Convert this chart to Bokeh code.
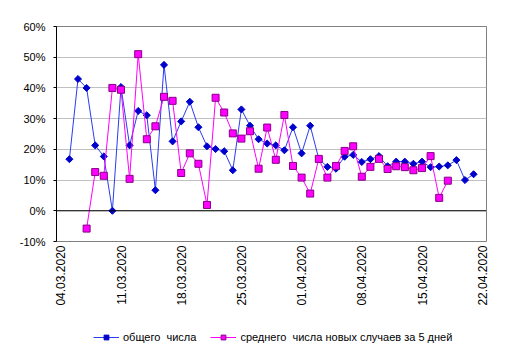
import math
import pandas as pd
from bokeh.plotting import figure
from bokeh.layouts import column
from bokeh.models import (ColumnDataSource, Range1d, FixedTicker, DatetimeTickFormatter,
                          PrintfTickFormatter, Span, Legend, LegendItem)
from bokeh.embed import file_html
from bokeh.resources import INLINE

# ---------------- data ----------------
total_dates = [
    "05.03.2020", "06.03.2020", "07.03.2020", "08.03.2020", "09.03.2020", "10.03.2020",
    "11.03.2020", "12.03.2020", "13.03.2020", "14.03.2020", "15.03.2020", "16.03.2020",
    "17.03.2020", "18.03.2020", "19.03.2020", "20.03.2020", "21.03.2020", "22.03.2020",
    "23.03.2020", "24.03.2020", "25.03.2020", "26.03.2020", "27.03.2020", "28.03.2020",
    "29.03.2020", "30.03.2020", "31.03.2020", "01.04.2020", "02.04.2020", "03.04.2020",
    "04.04.2020", "05.04.2020", "06.04.2020", "07.04.2020", "08.04.2020", "09.04.2020",
    "10.04.2020", "11.04.2020", "12.04.2020", "13.04.2020", "14.04.2020", "15.04.2020",
    "16.04.2020", "17.04.2020", "18.04.2020", "19.04.2020", "20.04.2020", "21.04.2020",
]
total_values = [
    16.8, 42.9, 40.0, 21.3, 17.7, 0.0,
    40.3, 21.3, 32.5, 31.1, 6.7, 47.5,
    22.6, 29.1, 35.5, 27.2, 21.0, 20.1,
    19.4, 13.2, 33.0, 27.7, 23.3, 21.9,
    21.3, 19.7, 27.2, 18.7, 27.7, 16.9,
    14.3, 13.7, 17.6, 18.2, 15.9, 16.8,
    17.8, 14.5, 16.0, 16.0, 15.3, 16.0,
    14.2, 14.4, 14.8, 16.5, 10.0, 11.9,
]

avg5_dates = [
    "07.03.2020", "08.03.2020", "09.03.2020", "10.03.2020", "11.03.2020", "12.03.2020",
    "13.03.2020", "14.03.2020", "15.03.2020", "16.03.2020", "17.03.2020", "18.03.2020",
    "19.03.2020", "20.03.2020", "21.03.2020", "22.03.2020", "23.03.2020", "24.03.2020",
    "25.03.2020", "26.03.2020", "27.03.2020", "28.03.2020", "29.03.2020", "30.03.2020",
    "31.03.2020", "01.04.2020", "02.04.2020", "03.04.2020", "04.04.2020", "05.04.2020",
    "06.04.2020", "07.04.2020", "08.04.2020", "09.04.2020", "10.04.2020", "11.04.2020",
    "12.04.2020", "13.04.2020", "14.04.2020", "15.04.2020", "16.04.2020", "17.04.2020",
    "18.04.2020",
]
avg5_values = [
    -5.8, 12.6, 11.4, 40.0, 39.4, 10.4,
    51.0, 23.3, 27.5, 37.1, 35.8, 12.3,
    18.7, 15.3, 1.9, 36.8, 32.0, 25.2,
    23.5, 25.9, 13.7, 27.1, 16.6, 31.2,
    14.6, 10.8, 5.6, 16.9, 10.8, 14.6,
    19.5, 21.0, 11.1, 14.3, 16.9, 13.6,
    14.5, 14.2, 13.2, 13.9, 17.8, 4.2,
    9.8,
]

tick_dates = ["04.03.2020", "11.03.2020", "18.03.2020", "25.03.2020",
              "01.04.2020", "08.04.2020", "15.04.2020", "22.04.2020"]
y_ticks = [-10, 0, 10, 20, 30, 40, 50, 60]
series_labels = ["общего  числа", "среднего  числа новых случаев за 5 дней"]

# ---------------- helpers ----------------
FONT = "Liberation Sans"
half_day = pd.Timedelta(hours=12)
epoch = pd.Timestamp("1970-01-01")
one_ms = pd.Timedelta(milliseconds=1)

BLUE_LINE, BLUE_MARK = "#2a3cf0", "#0000cc"
MAG_LINE, MAG_FILL, MAG_EDGE = "#ff00ff", "#ff00ff", "#880088"


def to_dt(lst):
    return pd.to_datetime(pd.Series(lst), format="%d.%m.%Y")


src_total = ColumnDataSource(dict(x=to_dt(total_dates) + half_day, y=total_values))
src_avg = ColumnDataSource(dict(x=to_dt(avg5_dates) + half_day, y=avg5_values))

tick_dt = to_dt(tick_dates)
tick_ms = [float((t + half_day - epoch) / one_ms) for t in tick_dt]
x_start_ms = float((tick_dt.iloc[0] - epoch) / one_ms)
x_end_ms = float((tick_dt.iloc[-1] + pd.Timedelta(days=1) - epoch) / one_ms)

# ---------------- main chart ----------------
p = figure(frame_width=430, frame_height=215, output_backend="svg", toolbar_location=None,
           x_axis_type="datetime",
           x_range=Range1d(x_start_ms, x_end_ms),
           y_range=Range1d(y_ticks[0], y_ticks[-1]),
           min_border_left=56, min_border_right=25, min_border_top=26,
           min_border_bottom=81)

p.background_fill_color = "white"
p.border_fill_color = "white"
p.outline_line_color = "#808080"
p.outline_line_width = 1

p.xgrid.visible = False
p.ygrid.ticker = FixedTicker(ticks=y_ticks)
p.ygrid.grid_line_color = "#c0c0c0"
p.ygrid.grid_line_width = 1

p.yaxis.ticker = FixedTicker(ticks=y_ticks)
p.yaxis.formatter = PrintfTickFormatter(format="%d%%")
p.yaxis.axis_line_color = "black"
p.yaxis.major_tick_line_color = "black"
p.yaxis.major_tick_out = 3
p.yaxis.major_tick_in = 0
p.yaxis.minor_tick_line_color = None
p.yaxis.major_label_standoff = 8
p.yaxis.major_label_text_font = FONT
p.yaxis.major_label_text_font_size = "11px"
p.yaxis.major_label_text_color = "black"

fmt = "%d.%m.%Y"
p.xaxis.ticker = FixedTicker(ticks=tick_ms)
p.xaxis.formatter = DatetimeTickFormatter(days=fmt, months=fmt, years=fmt, hours=fmt,
                                          hourmin=fmt)
p.xaxis.major_label_orientation = math.pi / 2
p.xaxis.axis_line_color = None
p.xaxis.major_tick_line_color = None
p.xaxis.major_tick_out = 0
p.xaxis.major_tick_in = 0
p.xaxis.minor_tick_line_color = None
p.xaxis.major_label_standoff = 4
p.xaxis.major_label_text_font = FONT
p.xaxis.major_label_text_font_size = "12px"
p.xaxis.major_label_text_color = "black"

p.add_layout(Span(location=0, dimension="width", line_color="black", line_width=1))

p.line("x", "y", source=src_total, line_color=BLUE_LINE, line_width=1)
p.scatter("x", "y", source=src_total, marker="square", angle=math.pi / 4,
          size=5, fill_color=BLUE_MARK, line_color=BLUE_MARK)
p.line("x", "y", source=src_avg, line_color=MAG_LINE, line_width=1)
p.scatter("x", "y", source=src_avg, marker="square", size=7,
          fill_color=MAG_FILL, line_color=MAG_EDGE, line_width=1)

# ---------------- legend strip (frame aligned with main chart) ----------------
lf = figure(width=511, height=32, output_backend="svg", toolbar_location=None,
            x_axis_location=None, y_axis_location=None, min_border=0,
            x_range=Range1d(0, 1), y_range=Range1d(0, 1))
lf.grid.visible = False
lf.outline_line_color = None
lf.background_fill_color = "white"
lf.border_fill_color = "white"

# same series, lying outside this strip's visible range, so only the legend keys show
k1 = lf.line("x", "y", source=src_total, line_color=BLUE_LINE, line_width=1)
s1 = lf.scatter("x", "y", source=src_total, marker="square", angle=math.pi / 4,
                size=5, fill_color=BLUE_MARK, line_color=BLUE_MARK)
k2 = lf.line("x", "y", source=src_avg, line_color=MAG_LINE, line_width=1)
s2 = lf.scatter("x", "y", source=src_avg, marker="square", size=7,
                fill_color=MAG_FILL, line_color=MAG_EDGE, line_width=1)

legend = Legend(items=[LegendItem(label=series_labels[0], renderers=[k1, s1]),
                       LegendItem(label=series_labels[1], renderers=[k2, s2])],
                orientation="horizontal", location=(37, 11),
                border_line_color=None, background_fill_alpha=0,
                label_text_font=FONT, label_text_font_size="11px",
                label_text_color="black",
                glyph_width=26, glyph_height=12, label_height=12,
                label_standoff=4, spacing=14, padding=4, margin=0)
lf.add_layout(legend)

layout = column(p, lf, spacing=0)
open("out.html", "w").write(file_html(layout, INLINE))
